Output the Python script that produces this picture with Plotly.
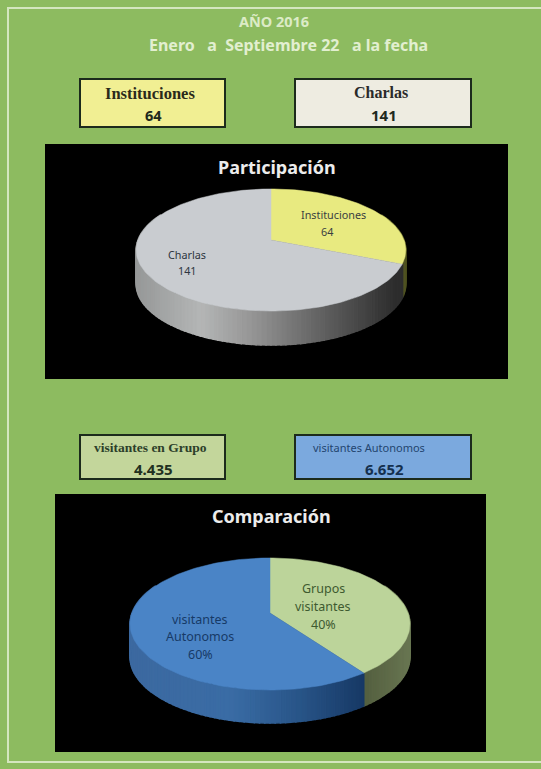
import math
import plotly.graph_objects as go

# ---- data ----
part_labels = ["Instituciones", "Charlas"]
part_values = [64, 141]
comp_labels = ["Grupos visitantes", "visitantes Autonomos"]
comp_values = [4435, 6652]
comp_value_text = ["4.435", "6.652"]
title_year = "AÑO 2016"
title_range = "Enero   a  Septiembre 22   a la fecha"

BG = "#8dbb60"
fig = go.Figure()
shapes, ann = [], []


def rect(x0, y0, x1, y1, fill, line=None, w=0):
    shapes.append(dict(type="rect", xref="x", yref="y", x0=x0, y0=y0, x1=x1, y1=y1,
                       fillcolor=fill, line=dict(color=line or fill, width=w), layer="below"))


def text(x, y, s, size, color, family="Noto Sans", bold=False):
    ann.append(dict(x=x, y=y, xref="x", yref="y", text=f"<b>{s}</b>" if bold else s, showarrow=False,
                    xanchor="center", yanchor="middle",
                    font=dict(size=size, color=color, family=family)))


def lerp(stops, x):
    if x <= stops[0][0]:
        return stops[0][1]
    for (a, ca), (b, cb) in zip(stops, stops[1:]):
        if x <= b:
            t = (x - a) / (b - a)
            return tuple(ca[i] + (cb[i] - ca[i]) * t for i in range(3))
    return stops[-1][1]


def pie3d(values, cx, apex_y, a, b, k, depth, top_colors, wall_stops):
    """Perspective-tilted pie: slices start at 12 o'clock and run clockwise."""
    def proj(th):
        u, v = math.sin(th), -math.cos(th)
        d = 1 - k * v
        return cx + a * u / d, apex_y + b * v / d

    total = sum(values)
    spans, start = [], 0.0
    for v in values:
        end = start + v / total * 2 * math.pi
        spans.append((start, end))
        start = end

    # side wall, as thin quads shaded along x
    n = 200
    for i in range(n):
        t0 = 2 * math.pi * i / n
        t1 = 2 * math.pi * (i + 1) / n
        x0, y0 = proj(t0)
        x1, y1 = proj(t1)
        if math.cos((t0 + t1) / 2) > 0.45:
            continue
        idx = next(j for j, (s, e) in enumerate(spans) if (t0 + t1) / 2 <= e)
        r, g, bl = lerp(wall_stops[idx], (x0 + x1) / 2)
        col = f"rgb({r:.0f},{g:.0f},{bl:.0f})"
        fig.add_trace(go.Scatter(x=[x0, x1, x1, x0, x0], y=[y0, y1, y1 + depth, y0 + depth, y0],
                                 mode="lines", fill="toself", fillcolor=col,
                                 line=dict(color=col, width=1.5), hoverinfo="skip"))
    # top faces
    for (s, e), col in zip(spans, top_colors):
        m = max(8, int((e - s) * 40))
        pts = [proj(s + (e - s) * i / m) for i in range(m + 1)]
        xs = [cx] + [p[0] for p in pts] + [cx]
        ys = [apex_y] + [p[1] for p in pts] + [apex_y]
        fig.add_trace(go.Scatter(x=xs, y=ys, mode="lines", fill="toself", fillcolor=col,
                                 line=dict(color=col, width=0.5), hoverinfo="skip"))


# page frame
shapes.append(dict(type="rect", xref="x", yref="y", x0=8, y0=8, x1=560, y1=762,
                   line=dict(color="#d4e6bf", width=2), layer="below"))

# headers
text(274, 21, title_year, 14.5, "#dcebc6", bold=True)
text(288, 45, title_range, 16, "#e2efd0", bold=True)

# summary boxes
BORDER = "#1c2b1c"
rect(80, 79, 225, 127, "#f1ef93", BORDER, 2)
rect(295, 79, 471, 127, "#eeece1", BORDER, 2)
rect(80, 435, 225, 479, "#c3d69b", BORDER, 2)
rect(295, 435, 471, 479, "#7ba9de", BORDER, 2)
SERIF = "Liberation Serif"
text(150, 93, part_labels[0], 16.5, "#2a2a1a", SERIF, True)
text(153, 115, str(part_values[0]), 14.5, "#20281c", "Noto Sans", True)
text(381, 92, part_labels[1], 16, "#2a2a2a", SERIF, True)
text(384, 115, str(part_values[1]), 15, "#20281c", "Noto Sans", True)
text(150, 447, "visitantes en Grupo", 13.5, "#2c3f2a", SERIF, True)
text(153, 469, comp_value_text[0], 15, "#20301f", "Noto Sans", True)
text(369, 447, "visitantes Autonomos", 11, "#23456f", "Noto Sans")
text(384, 469, comp_value_text[1], 15, "#14304f", "Noto Sans", True)

# black panels
rect(45, 144, 508, 379, "#000000")
rect(55, 494, 486, 752, "#000000")
text(277, 167, "Participación", 18, "#ececec", bold=True)
text(271, 516, "Comparación", 18, "#ececec", bold=True)

GRAY_WALL = [(135, (150, 152, 152)), (200, (180, 182, 182)), (250, (150, 150, 150)),
             (310, (105, 105, 105)), (395, (45, 45, 45))]
YEL_WALL = [(390, (110, 112, 50)), (406, (75, 78, 30))]
GRN_WALL = [(365, (84, 96, 64)), (410, (105, 118, 82))]
BLU_WALL = [(130, (60, 105, 160)), (230, (58, 108, 165)), (300, (40, 84, 135)),
            (365, (22, 56, 100))]

pie3d(part_values, 271, 240, 133, 59.4, 0.164, 34, ["#e8ea80", "#c9ccd0"], [YEL_WALL, GRAY_WALL])
pie3d(comp_values, 270, 613, 138, 64.2, 1 / 6, 33, ["#bcd49a", "#4a84c6"], [GRN_WALL, BLU_WALL])

# slice labels
DARK = "#3a4040"
text(333, 214, part_labels[0], 10.8, DARK)
text(327, 231, str(part_values[0]), 10.8, DARK)
text(187, 254, part_labels[1], 10.8, "#2d3640")
text(187, 270, str(part_values[1]), 10.8, "#2d3640")

pct = [round(v / sum(comp_values) * 100) for v in comp_values]
g1, g2 = comp_labels[0].split(" ")
a1, a2 = comp_labels[1].split(" ")
for y, s in zip((588, 606, 624), (g1, g2, f"{pct[0]}%")):
    text(323, y, s, 12.5, "#3e5a30")
for y, s in zip((619, 636, 654), (a1, a2, f"{pct[1]}%")):
    text(200, y, s, 12.5, "#173a66")

fig.update_layout(
    width=541, height=769, margin=dict(l=0, r=0, t=0, b=0),
    paper_bgcolor=BG, plot_bgcolor=BG, showlegend=False,
    xaxis=dict(range=[0, 541], visible=False, fixedrange=True),
    yaxis=dict(range=[769, 0], visible=False, fixedrange=True),
    shapes=shapes, annotations=ann,
)
fig.write_html("out.html", config={"displayModeBar": False},
               post_script="document.body.style.margin='0';document.body.style.background='%s';" % BG)
